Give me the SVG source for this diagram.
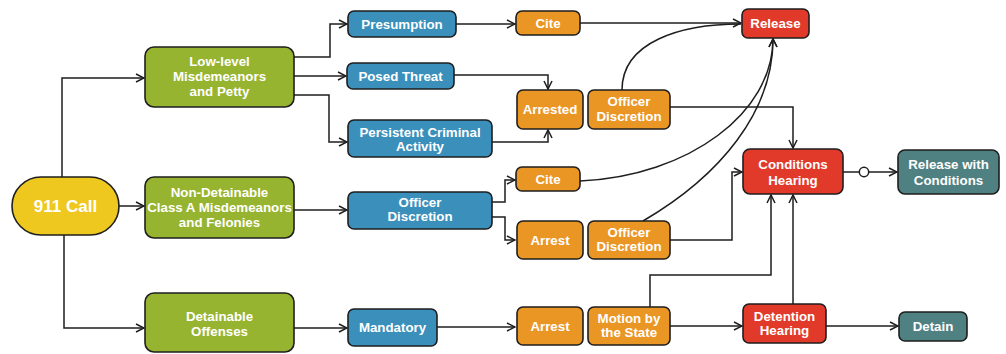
<svg xmlns="http://www.w3.org/2000/svg" width="1006" height="354" viewBox="0 0 1006 354">
<defs>
<style>
.n{stroke:#1e1e1e;stroke-width:1.6}
.g{fill:#97b431}.b{fill:#3a8fbb}.o{fill:#ea9624}.r{fill:#e13a2a}.t{fill:#4f8183}.y{fill:#efc81f}
text{font-family:"Liberation Sans",Arial,sans-serif;font-weight:bold;font-size:13.3px;fill:#fff;text-anchor:middle}
.c path{fill:none;stroke:#1e1e1e;stroke-width:1.5}
</style>
<marker id="a" viewBox="0 0 10 10" refX="9" refY="5" markerWidth="10" markerHeight="10" markerUnits="userSpaceOnUse" orient="auto">
<path d="M1,1 L9,5 L1,9" fill="none" stroke="#1e1e1e" stroke-width="1.5"/>
</marker>
</defs>
<rect width="1006" height="354" fill="#fff"/>
<g class="c">
<path d="M62,177 V78 H144" marker-end="url(#a)"/>
<path d="M119,206 H144" marker-end="url(#a)"/>
<path d="M64,235 V328 H144" marker-end="url(#a)"/>
<path d="M294,57 H330 V24 H347" marker-end="url(#a)"/>
<path d="M294,76 H346" marker-end="url(#a)"/>
<path d="M294,95 H329 V142 H347" marker-end="url(#a)"/>
<path d="M456,24 H515" marker-end="url(#a)"/>
<path d="M580,23 H741" marker-end="url(#a)"/>
<path d="M454,75 H548 V89" marker-end="url(#a)"/>
<path d="M492,142 H548 V130" marker-end="url(#a)"/>
<path d="M622,90 C622,42 680,24 741,24"/>
<path d="M670,107 H793 V148" marker-end="url(#a)"/>
<path d="M294,210 H347" marker-end="url(#a)"/>
<path d="M492,202 H505 V180 H515" marker-end="url(#a)"/>
<path d="M492,217 H505 V240 H515" marker-end="url(#a)"/>
<path d="M580,181 C690,176 773,112 773,39" marker-end="url(#a)"/>
<path d="M643,221 C720,176 773,112 773,39" marker-end="url(#a)"/>
<path d="M670,240 H732 V172 H742" marker-end="url(#a)"/>
<path d="M843,172 H859"/>
<path d="M869,172 H897" marker-end="url(#a)"/>
<path d="M294,328 H347" marker-end="url(#a)"/>
<path d="M437,327 H515" marker-end="url(#a)"/>
<path d="M650,307 V275 H771 V195" marker-end="url(#a)"/>
<path d="M670,326 H742" marker-end="url(#a)"/>
<path d="M793,304 V195" marker-end="url(#a)"/>
<path d="M826,326 H898" marker-end="url(#a)"/>
<circle cx="864" cy="172" r="4.7" fill="#fff" stroke="#1e1e1e" stroke-width="1.5"/>
</g>
<g id="call"><rect class="n y" x="12" y="177" width="107" height="58" rx="29"/><text x="65.5" y="212" style="font-size:17px">911 Call</text></g>
<g id="low"><rect class="n g" x="145" y="47" width="149" height="60" rx="9"/><text x="219.5" y="66">Low-level</text><text x="219.5" y="81">Misdemeanors</text><text x="219.5" y="96">and Petty</text></g>
<g id="nondet"><rect class="n g" x="145" y="177" width="149" height="61" rx="9"/><text x="219.5" y="197">Non-Detainable</text><text x="219.5" y="212">Class A Misdemeanors</text><text x="219.5" y="227">and Felonies</text></g>
<g id="det"><rect class="n g" x="145" y="293" width="149" height="59" rx="9"/><text x="219.5" y="321">Detainable</text><text x="219.5" y="336">Offenses</text></g>
<g id="pres"><rect class="n b" x="348" y="11" width="108" height="26" rx="6"/><text x="402" y="28.5">Presumption</text></g>
<g id="posed"><rect class="n b" x="347" y="63" width="107" height="26" rx="6"/><text x="400.5" y="80.5">Posed Threat</text></g>
<g id="persist"><rect class="n b" x="348" y="120" width="144" height="37" rx="6"/><text x="420" y="137">Persistent Criminal</text><text x="420" y="151">Activity</text></g>
<g id="offd1"><rect class="n b" x="348" y="192" width="144" height="37" rx="6"/><text x="420" y="207">Officer</text><text x="420" y="221">Discretion</text></g>
<g id="mand"><rect class="n b" x="348" y="309" width="89" height="37" rx="6"/><text x="392.5" y="332">Mandatory</text></g>
<g id="cite1"><rect class="n o" x="516" y="11" width="64" height="24" rx="6"/><text x="548" y="28">Cite</text></g>
<g id="arrested"><rect class="n o" x="517" y="90" width="66" height="39" rx="6"/><text x="550" y="114">Arrested</text></g>
<g id="offo1"><rect class="n o" x="588" y="90" width="82" height="39" rx="6"/><text x="629" y="106">Officer</text><text x="629" y="121">Discretion</text></g>
<g id="cite2"><rect class="n o" x="516" y="167" width="64" height="24" rx="6"/><text x="548" y="184">Cite</text></g>
<g id="arrest2"><rect class="n o" x="517" y="221" width="66" height="38" rx="6"/><text x="550" y="244.5">Arrest</text></g>
<g id="offo2"><rect class="n o" x="588" y="221" width="82" height="38" rx="6"/><text x="629" y="237">Officer</text><text x="629" y="251">Discretion</text></g>
<g id="arrest3"><rect class="n o" x="517" y="307" width="66" height="38" rx="6"/><text x="550" y="330.5">Arrest</text></g>
<g id="motion"><rect class="n o" x="588" y="307" width="82" height="38" rx="6"/><text x="629" y="323">Motion by</text><text x="629" y="337">the State</text></g>
<g id="release"><rect class="n r" x="742" y="9" width="67" height="29" rx="6"/><text x="775.5" y="28">Release</text></g>
<g id="cond"><rect class="n r" x="743" y="149" width="100" height="45" rx="7"/><text x="793" y="169">Conditions</text><text x="793" y="185">Hearing</text></g>
<g id="dethear"><rect class="n r" x="743" y="304" width="83" height="39" rx="6"/><text x="784.5" y="321">Detention</text><text x="784.5" y="335">Hearing</text></g>
<g id="relcond"><rect class="n t" x="898" y="150" width="101" height="44" rx="7"/><text x="948.5" y="169">Release with</text><text x="948.5" y="185">Conditions</text></g>
<g id="detain"><rect class="n t" x="899" y="312" width="68" height="29" rx="6"/><text x="933" y="331">Detain</text></g>
</svg>
